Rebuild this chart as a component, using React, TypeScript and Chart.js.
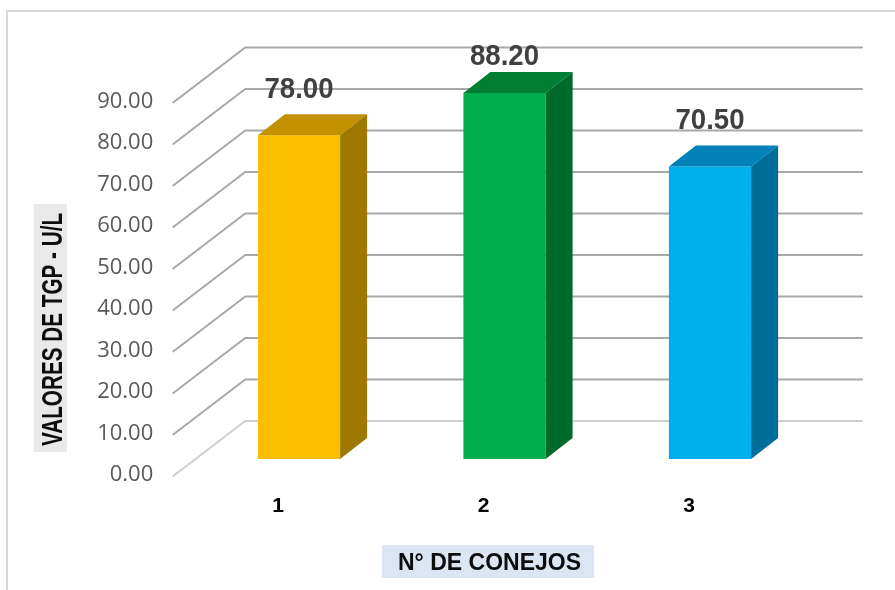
import React, { useEffect, useRef } from 'react';
import { Chart, registerables } from 'chart.js';

Chart.register(...registerables);

// Rabbits and their TGP values (U/L)
const categories = ['1', '2', '3'];
const tgpValues = [78.0, 88.2, 70.5];
const yMin = 0;
const yMax = 90;
const yStep = 10;

// Face colours of the columns: front, top and right-hand side
const frontColors = ['#FBBF00', '#00AD4C', '#00AFEB'];
const topColors = ['#C29200', '#007F33', '#0081B8'];
const sideColors = ['#9E7800', '#006A2C', '#006C99'];

const yAxisTitle = 'VALORES DE TGP - U/L';
const xAxisTitle = 'N° DE CONEJOS';

const W = 895;
const H = 590;

// Perspective offsets of the 3-D box
const BAR_DX = 27;
const BAR_DY = -21;
const WALL_DX = 49; // back wall relative to the column plane
const WALL_DY = -38;
const FRONT_DX = -23; // front edge of the floor relative to the column plane
const FRONT_DY = 17;
const WALL_RIGHT = 862;

const depthPlugin = {
  id: 'depth3d',
  beforeDraw(chart: any) {
    const { ctx } = chart;
    ctx.save();
    ctx.fillStyle = '#ffffff';
    ctx.fillRect(0, 0, W, H);
    ctx.strokeStyle = '#d9d9d9';
    ctx.lineWidth = 2;
    ctx.beginPath();
    ctx.moveTo(7, H);
    ctx.lineTo(7, 11);
    ctx.lineTo(W, 11);
    ctx.stroke();
    ctx.restore();
  },
  beforeDatasetsDraw(chart: any) {
    const { ctx, chartArea } = chart;
    const y = chart.scales.y;
    const frontX = chartArea.left + FRONT_DX;
    const backX = chartArea.left + WALL_DX;
    ctx.save();
    ctx.lineWidth = 2;
    ctx.lineCap = 'round';
    y.ticks.forEach((t: any) => {
      const p = y.getPixelForValue(t.value);
      ctx.strokeStyle = t.value === 0 ? '#cfcfcf' : '#a8a8a8';
      ctx.beginPath();
      ctx.moveTo(frontX, p + FRONT_DY);
      ctx.lineTo(backX, p + WALL_DY);
      ctx.lineTo(WALL_RIGHT, p + WALL_DY);
      ctx.stroke();
    });
    ctx.restore();
  },
  afterDatasetsDraw(chart: any) {
    const { ctx, chartArea } = chart;
    const meta = chart.getDatasetMeta(0);
    ctx.save();
    meta.data.forEach((bar: any, i: number) => {
      const { x, y, width, base } = bar.getProps(['x', 'y', 'width', 'base'], true);
      const left = x - width / 2;
      const right = x + width / 2;
      // top face
      ctx.fillStyle = topColors[i];
      ctx.beginPath();
      ctx.moveTo(left, y);
      ctx.lineTo(left + BAR_DX, y + BAR_DY);
      ctx.lineTo(right + BAR_DX, y + BAR_DY);
      ctx.lineTo(right, y);
      ctx.closePath();
      ctx.fill();
      // side face
      ctx.fillStyle = sideColors[i];
      ctx.beginPath();
      ctx.moveTo(right, y);
      ctx.lineTo(right + BAR_DX, y + BAR_DY);
      ctx.lineTo(right + BAR_DX, base + BAR_DY);
      ctx.lineTo(right, base);
      ctx.closePath();
      ctx.fill();
    });
    // value labels
    ctx.fillStyle = '#404040';
    ctx.font = 'bold 30px "Liberation Sans", Arial, sans-serif';
    ctx.textAlign = 'center';
    ctx.textBaseline = 'alphabetic';
    meta.data.forEach((bar: any, i: number) => {
      const { x, y } = bar.getProps(['x', 'y'], true);
      const baseline = Math.max(y - 37, chartArea.top - 21);
      ctx.save();
      ctx.translate(x, baseline);
      ctx.scale(0.92, 1);
      ctx.fillText(tgpValues[i].toFixed(2), 0, 0);
      ctx.restore();
    });
    ctx.restore();
  },
  afterDraw(chart: any) {
    const { ctx } = chart;
    ctx.save();
    // vertical axis title
    ctx.fillStyle = '#e9e9e9';
    ctx.fillRect(34, 204, 33, 248);
    ctx.fillStyle = '#0d0d0d';
    ctx.font = 'bold 30px "Liberation Sans", Arial, sans-serif';
    ctx.textAlign = 'center';
    ctx.textBaseline = 'alphabetic';
    ctx.save();
    ctx.translate(62, 329.5);
    ctx.rotate(-Math.PI / 2);
    ctx.scale(0.69, 1);
    ctx.fillText(yAxisTitle, 0, 0);
    ctx.restore();
    // horizontal axis title
    ctx.fillStyle = '#dce6f2';
    ctx.fillRect(382, 545, 212, 33);
    ctx.fillStyle = '#0d0d0d';
    ctx.font = 'bold 23px "Liberation Sans", Arial, sans-serif';
    ctx.fillText(xAxisTitle, 489.5, 570);
    ctx.restore();
  },
};

export default function App() {
  const canvasRef = useRef<HTMLCanvasElement | null>(null);

  useEffect(() => {
    document.body.style.margin = '0';
    const canvas = canvasRef.current;
    if (!canvas) return;
    const chart = new Chart(canvas, {
      type: 'bar',
      data: {
        labels: categories,
        datasets: [
          {
            data: tgpValues,
            backgroundColor: frontColors,
            borderWidth: 0,
            barPercentage: 0.4,
            categoryPercentage: 1,
          },
        ],
      },
      options: {
        responsive: false,
        animation: false,
        devicePixelRatio: 1,
        layout: { padding: { left: 0, top: 85.5, right: 82.25, bottom: 0 } },
        plugins: {
          legend: { display: false },
          tooltip: { enabled: false },
        },
        scales: {
          x: {
            offset: true,
            grid: { display: false, drawTicks: false },
            border: { display: false },
            ticks: {
              color: '#000000',
              font: { family: '"Liberation Sans", Arial, sans-serif', size: 21, weight: 'bold' },
              padding: 35,
              labelOffset: -21,
            },
            afterFit: (s: any) => {
              s.height = H - 459;
            },
          },
          y: {
            min: yMin,
            max: yMax,
            grid: { display: false, drawTicks: false },
            border: { display: false },
            ticks: {
              stepSize: yStep,
              color: '#595959',
              font: { family: '"Open Sans", sans-serif', size: 22 },
              padding: 43,
              labelOffset: 16,
              callback: (v: any) => Number(v).toFixed(2),
            },
            afterFit: (s: any) => {
              s.width = 196.25;
            },
          },
        },
      },
      plugins: [depthPlugin],
    });
    return () => chart.destroy();
  }, []);

  return (
    <div style={{ position: 'absolute', left: 0, top: 0, width: W, height: H }}>
      <canvas ref={canvasRef} width={W} height={H} style={{ width: W, height: H }} />
    </div>
  );
}
